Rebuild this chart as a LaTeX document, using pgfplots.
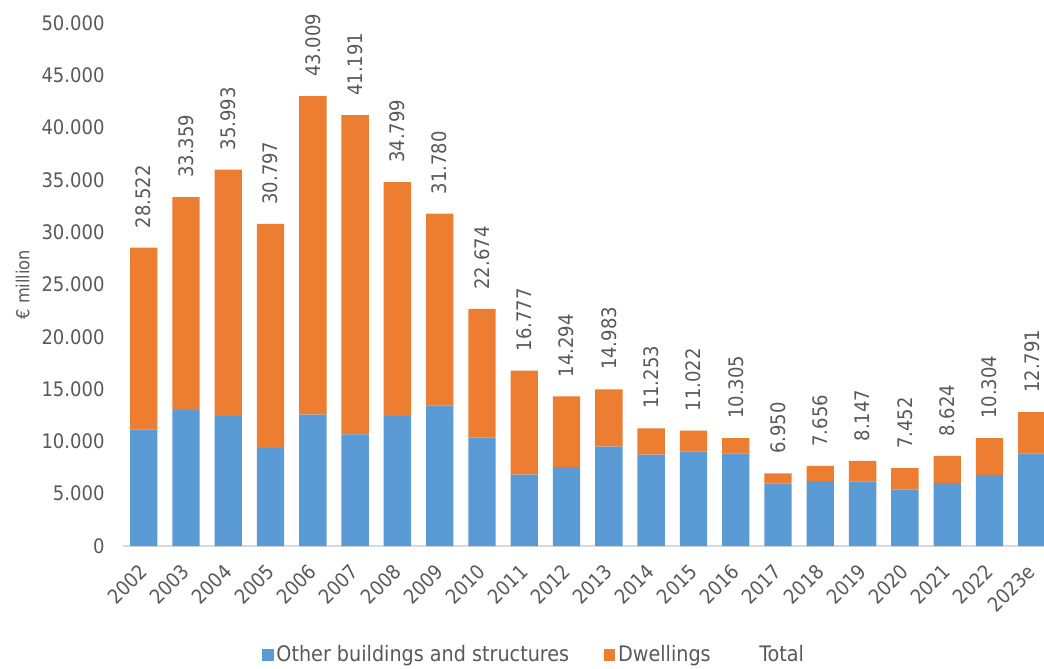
\documentclass[border=0pt]{standalone}
\usepackage{fontspec}
\setmainfont{DejaVu Sans Condensed}
\usepackage{pgfplots}
\usepackage{pgfplotstable}
\pgfplotsset{compat=1.18}
\definecolor{cblue}{HTML}{5B9BD5}
\definecolor{corange}{HTML}{ED7D31}
\definecolor{tgray}{HTML}{595959}
\definecolor{lgray}{HTML}{D9D9D9}
\pgfplotstableread{
x other dwell label
0 11160 17362 28.522
1 13000 20359 33.359
2 12430 23563 35.993
3 9370 21427 30.797
4 12560 30449 43.009
5 10680 30511 41.191
6 12430 22369 34.799
7 13450 18330 31.780
8 10360 12314 22.674
9 6830 9947 16.777
10 7550 6744 14.294
11 9500 5483 14.983
12 8740 2513 11.253
13 9050 1972 11.022
14 8860 1445 10.305
15 5960 990 6.950
16 6210 1446 7.656
17 6190 1957 8.147
18 5390 2062 7.452
19 6020 2604 8.624
20 6790 3514 10.304
21 8860 3931 12.791
}\data
\begin{document}
\begin{tikzpicture}
\begin{axis}[
  scale only axis, width=691.1pt, height=392.25pt,
  ybar stacked, bar width=20.5pt,
  xmin=-0.5, xmax=21.29, ymin=0, ymax=50000,
  clip=false,
  axis x line*=bottom, axis y line*=left,
  x axis line style={draw=lgray, line width=1pt},
  y axis line style={draw=none},
  major tick length=0pt,
  xtick={0,...,21},
  xticklabels={2002,2003,2004,2005,2006,2007,2008,2009,2010,2011,2012,2013,2014,2015,2016,2017,2018,2019,2020,2021,2022,2023e},
  ytick={0,5000,...,50000},
  scaled y ticks=false,
  /pgf/number format/1000 sep={.},
  /pgf/number format/assume math mode=true,
  tick label style={font=\fontsize{15}{18}\selectfont, text=tgray},
  yticklabel style={anchor=east, xshift=-10pt},
  xticklabel style={anchor=north east, xshift=-4.2pt, yshift=-7.5pt, rotate=45},
  ylabel={€ million},
  ylabel style={at={(axis description cs:-0.1085,0.5)}, anchor=center, font=\fontsize{13.5}{16}\selectfont, text=tgray},
  legend style={at={(0.447,-0.208)}, anchor=center, legend columns=3, draw=none, fill=none,
    font=\fontsize{16}{19}\selectfont, text=tgray,
    /tikz/every even column/.append style={column sep=24pt},
    nodes={inner xsep=2pt}},
  legend image code/.code={\fill[#1] (0pt,-4.3pt) rectangle (8.6pt,4.3pt);},
]
\addplot[fill=cblue, draw=none] table[x=x, y=other] {\data};
\addplot[fill=corange, draw=none] table[x=x, y=dwell] {\data};
\addplot[fill=none, draw=none, nodes near coords, point meta=explicit symbolic,
  legend image code/.code={\path (0pt,-4.3pt) rectangle (8.6pt,4.3pt);},
  every node near coord/.append style={check for zero/.code={}},
  nodes near coords style={rotate=90, anchor=west, xshift=11pt, font=\fontsize{15}{18}\selectfont, text=tgray}]
  table[x=x, y expr=1, meta=label] {\data};
\legend{Other buildings and structures, Dwellings, Total}
\end{axis}
\pgfresetboundingbox
\path (-91.9pt,-91.5pt) rectangle (691.1pt,409.5pt);
\end{tikzpicture}
\end{document}
